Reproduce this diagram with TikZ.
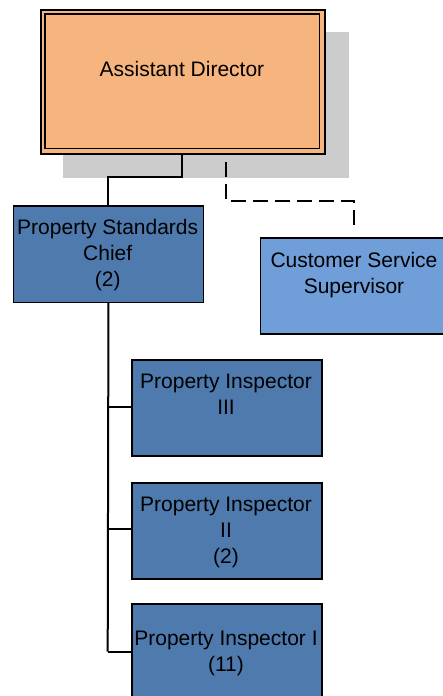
\documentclass[tikz,border=0pt]{standalone}
\usepackage{fontspec}
\setmainfont{Liberation Sans}
\definecolor{adfill}{HTML}{F6B47E}
\definecolor{darkbl}{HTML}{4F7AAE}
\definecolor{lightbl}{HTML}{6F9ED9}
\definecolor{shadowgray}{HTML}{CCCCCC}
\begin{document}
\begin{tikzpicture}[x=1pt,y=-1pt,
  box/.style={draw=black,line width=1.5pt,rectangle,inner sep=0pt,anchor=north west},
  txt/.style={anchor=north,inner sep=0pt,align=center,font=\fontsize{21}{26}\selectfont},
  conn/.style={draw=black,line width=2pt},
  dconn/.style={draw=black,line width=2pt,dash pattern=on 15pt off 7pt}]
\useasboundingbox (0,0) rectangle (442,696);
% shadow
\fill[shadowgray] (63,32) rectangle (349,177.5);
% Assistant Director
\node[box,fill=adfill,minimum width=284pt,minimum height=144pt] (ad) at (40,9) {};
\draw[line width=1.5pt] (45,14) rectangle (319.5,148.3);
\node[txt] (adt) at (182,61) {Assistant Director};
% Property Standards Chief
\node[box,fill=darkbl,minimum width=190pt,minimum height=96.5pt] (psc) at (12.7,205) {};
\node[txt] (psct) at (107.7,219.5) {Property Standards\\Chief\\(2)};
% Customer Service Supervisor
\node[box,fill=lightbl,minimum width=195pt,minimum height=96.3pt] (css) at (259.7,237) {};
\node[txt] (csst) at (354,252) {Customer Service\\Supervisor};
% Inspectors
\node[box,fill=darkbl,minimum width=190pt,minimum height=96pt] (pi3) at (131,359) {};
\node[txt] (pi3t) at (226,374) {Property Inspector\\III};
\node[box,fill=darkbl,minimum width=190pt,minimum height=96pt] (pi2) at (131,482) {};
\node[txt] (pi2t) at (226,497) {Property Inspector\\II\\(2)};
\node[box,fill=darkbl,minimum width=190pt,minimum height=110pt] (pi1) at (131,603) {};
\node[txt] (pi1t) at (226,631) {Property Inspector I\\(11)};
% connectors
\coordinate (adb) at (182.3,153.3);
\draw[conn] (adb) -- (182.3,177) -| (psc.north);
\coordinate (dstart) at (226.3,162);
\coordinate (dend) at (354.3,231);
\draw[dconn] (dstart) -- (226.3,201) -| (dend);
\coordinate (v1) at (107.7,406.7);
\coordinate (v2) at (107.7,529.3);
\coordinate (v3) at (107.7,651.7);
\draw[conn] (psc.south) -- (v3);
\draw[conn] (v1) -- (v1 -| pi3.west);
\draw[conn] (v2) -- (v2 -| pi2.west);
\draw[conn] (v3) -- (v3 -| pi1.west);
\end{tikzpicture}
\end{document}
